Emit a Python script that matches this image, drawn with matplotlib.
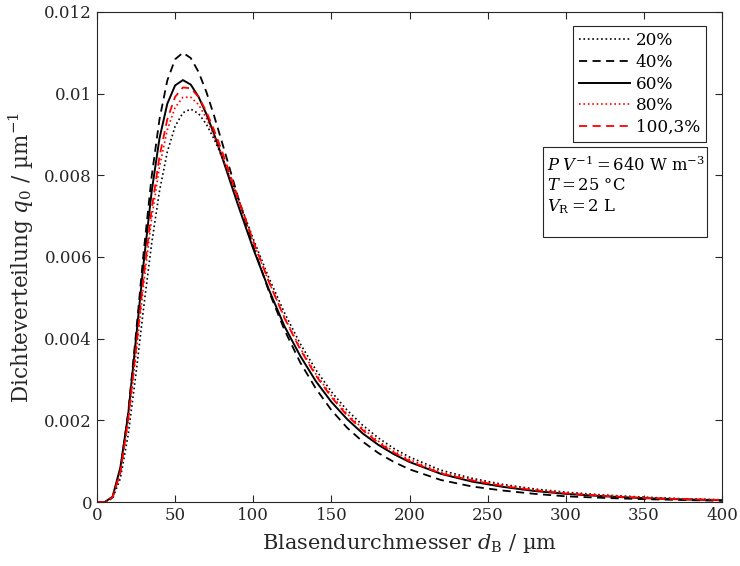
import numpy as np
import matplotlib
matplotlib.use('Agg')
import matplotlib.pyplot as plt
from matplotlib.patches import Rectangle

plt.rcParams['font.family'] = ['DejaVu Serif']
plt.rcParams['mathtext.fontset'] = 'dejavuserif'

# bubble diameter d_B in um
d_B = [0, 5, 10, 15, 20, 25, 30, 35, 40, 45, 50, 55, 60, 65, 70, 75, 80, 90, 100,
       110, 120, 130, 140, 150, 160, 170, 180, 190, 200, 220, 240, 260, 280, 300,
       325, 350, 375, 400]

# density distribution q0 in 1/um
q_20 = [0, 0, 0.00009, 0.00058, 0.00165, 0.00315, 0.00480, 0.00633, 0.00761, 0.00857,
        0.00920, 0.00953, 0.00962, 0.00951, 0.00925, 0.00888, 0.00845, 0.00746, 0.00644,
        0.00549, 0.00463, 0.00388, 0.00324, 0.00270, 0.00225, 0.00188, 0.00157, 0.00131,
        0.00110, 0.00078, 0.00058, 0.00043, 0.00032, 0.00024, 0.00017, 0.00012, 0.00008,
        0.000055]
q_40 = [0, 0, 0.00011, 0.00077, 0.00219, 0.00413, 0.00616, 0.00797, 0.00937, 0.01032,
        0.01084, 0.01100, 0.01087, 0.01053, 0.01004, 0.00945, 0.00881, 0.00750, 0.00626,
        0.00516, 0.00421, 0.00342, 0.00278, 0.00225, 0.00182, 0.00148, 0.00120, 0.00098,
        0.00080, 0.00054, 0.00038, 0.00028, 0.00020, 0.00014, 0.00010, 0.00007, 0.00005,
        0.00003]
q_60 = [0, 0, 0.00013, 0.00085, 0.00215, 0.00400, 0.00590, 0.00760, 0.00890, 0.00975,
        0.01020, 0.01033, 0.01022, 0.00992, 0.00950, 0.00900, 0.00845, 0.00730, 0.00620,
        0.00520, 0.00430, 0.00358, 0.00296, 0.00245, 0.00203, 0.00168, 0.00140, 0.00117,
        0.00098, 0.00069, 0.00050, 0.00037, 0.00027, 0.00020, 0.00014, 0.000095, 0.000065,
        0.000045]
q_80 = [0, 0, 0.00012, 0.00072, 0.00196, 0.00362, 0.00537, 0.00694, 0.00821, 0.00911,
        0.00966, 0.00991, 0.00991, 0.00973, 0.00940, 0.00897, 0.00848, 0.00742, 0.00636,
        0.00539, 0.00452, 0.00377, 0.00314, 0.00261, 0.00216, 0.00180, 0.00149, 0.00124,
        0.00104, 0.00073, 0.00055, 0.00041, 0.00030, 0.00022, 0.00016, 0.00011, 0.000075,
        0.00005]
q_100 = [0, 0, 0.00012, 0.00074, 0.00203, 0.00374, 0.00555, 0.00717, 0.00846, 0.00937,
         0.00992, 0.01015, 0.01013, 0.00992, 0.00956, 0.00910, 0.00859, 0.00748, 0.00639,
         0.00539, 0.00450, 0.00374, 0.00310, 0.00257, 0.00212, 0.00176, 0.00145, 0.00121,
         0.00100, 0.00070, 0.00053, 0.00039, 0.00029, 0.00021, 0.00015, 0.00010, 0.00007,
         0.00005]

labels = ['20%', '40%', '60%', '80%', '100,3%']

fig = plt.figure(figsize=(7.4, 5.66), dpi=100)
ax = fig.add_axes([0.131, 0.113, 0.845, 0.866])

ax.plot(d_B, q_20, color='black', linestyle=':', lw=1.2, label=labels[0])
ax.plot(d_B, q_40, color='black', linestyle=(0, (4.5, 3)), lw=1.3, label=labels[1])
ax.plot(d_B, q_60, color='black', linestyle='-', lw=1.4, label=labels[2])
ax.plot(d_B, q_80, color='red', linestyle=':', lw=1.2, label=labels[3])
ax.plot(d_B, q_100, color='red', linestyle=(0, (4.5, 3)), lw=1.3, label=labels[4])

ax.set_xlim(0, 400)
ax.set_ylim(0, 0.012)
ax.set_xticks(np.arange(0, 401, 50))
ax.set_yticks([0, 0.002, 0.004, 0.006, 0.008, 0.01, 0.012])
ax.set_yticklabels(['0', '0.002', '0.004', '0.006', '0.008', '0.01', '0.012'])
ax.tick_params(direction='in', top=True, right=True, labelsize=12, colors='#262626',
               length=5, width=0.8)
for s in ax.spines.values():
    s.set_color('#262626')
    s.set_linewidth(0.8)

ax.set_xlabel(r'Blasendurchmesser $d_\mathrm{B}$ / µm', fontsize=15, color='#262626',
              labelpad=6)
ax.set_ylabel(r'Dichteverteilung $q_0$ / µm$^{-1}$', fontsize=15.5, color='#262626',
              labelpad=6)

leg = ax.legend(loc='upper right', bbox_to_anchor=(0.974, 0.971), borderaxespad=0,
                fontsize=12.2, handlelength=3.0, handletextpad=0.35, borderpad=0.35,
                labelspacing=0.28, fancybox=False, framealpha=1)
leg.get_frame().set_edgecolor('#262626')
leg.get_frame().set_linewidth(0.8)

# conditions box
ax.add_patch(Rectangle((0.714, 0.541), 0.262, 0.184, transform=ax.transAxes,
                       fill=False, edgecolor='#262626', lw=0.8))
cond = [r'$P\;V^{-1} = 640\ \mathrm{W\ m^{-3}}$', r'$T = 25\ \mathrm{°C}$',
        r'$V_\mathrm{R} = 2\ \mathrm{L}$']
for i, t in enumerate(cond):
    ax.text(0.720, 0.688 - i * 0.043, t, transform=ax.transAxes, fontsize=11.8,
            va='center', ha='left', color='black')

fig.savefig('out.png', dpi=100)
